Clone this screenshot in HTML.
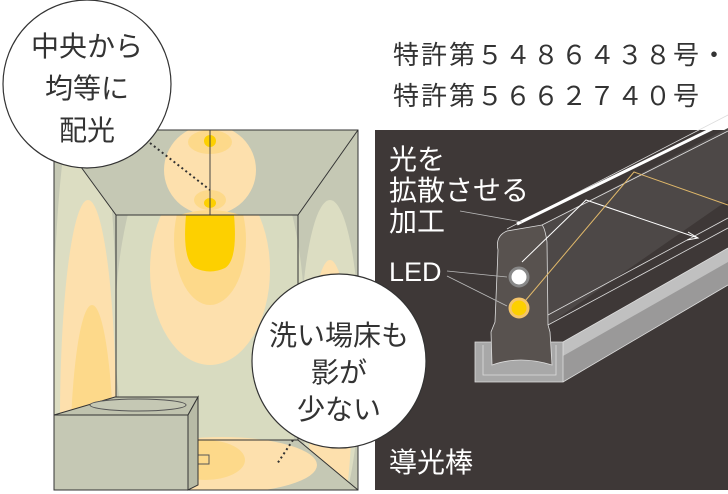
<!DOCTYPE html>
<html><head><meta charset="utf-8"><style>
html,body{margin:0;padding:0;background:#fff;width:728px;height:494px;overflow:hidden;}
svg{display:block}
text{font-family:"Liberation Sans","Noto Sans CJK JP",sans-serif;}
</style></head><body>
<svg width="728" height="494" viewBox="0 0 728 494" xmlns="http://www.w3.org/2000/svg">
<defs><clipPath id="room"><rect x="54" y="130" width="304" height="360"/></clipPath></defs>
<g clip-path="url(#room)">
<rect x="54" y="130" width="304" height="360" fill="#c5c8b4"/>
<ellipse cx="85" cy="360" rx="32" ry="280" fill="#dcddc2"/>
<ellipse cx="88" cy="420" rx="28" ry="220" fill="#fde0ad"/>
<ellipse cx="92" cy="470" rx="22" ry="165" fill="#fdd98a"/>
<ellipse cx="330" cy="360" rx="30" ry="160" fill="#dcddc2"/>
<ellipse cx="330" cy="400" rx="22" ry="140" fill="#fde0ad"/>
<polygon points="116,215 298,215 298,440 116,440" fill="#c5c8b4"/>
<ellipse cx="210" cy="330" rx="95" ry="230" fill="#d8dbc0"/>
<ellipse cx="210" cy="270" rx="60" ry="95" fill="#fde0ad"/>
<ellipse cx="210" cy="240" rx="36" ry="65" fill="#fdd98a"/>
<path d="M186,215 L234,215 Q238,260 225,268 Q210,275 195,268 Q182,260 186,215Z" fill="#fdd000"/>
<polygon points="54,130 358,130 298,215 116,215" fill="#c5c8b4"/>
<ellipse cx="210" cy="170" rx="46" ry="45" fill="#fde0ad"/>
<ellipse cx="210" cy="142" rx="22" ry="12" fill="#fdd98a"/>
<ellipse cx="210" cy="200" rx="16" ry="10" fill="#fdd98a"/>
<ellipse cx="210" cy="141" rx="6" ry="6" fill="#fdd000"/>
<ellipse cx="210" cy="203" rx="6" ry="5" fill="#fdd000"/>
<path d="M180,215 Q210,205 240,215Z" fill="#fdd98a"/>
<polygon points="116,440 298,440 358,490 54,490" fill="#c5c8b4"/>
<ellipse cx="222" cy="465" rx="95" ry="28" fill="#fde0ad"/>
<ellipse cx="205" cy="460" rx="40" ry="20" fill="#fdd98a"/>
<rect x="193" y="455" width="16" height="9" fill="none" stroke="#555" stroke-width="1"/>
</g>
<g fill="none" stroke="#333" stroke-width="1">
<rect x="54" y="130" width="304" height="360"/>
<rect x="116" y="215" width="182" height="225"/>
<line x1="54" y1="130" x2="116" y2="215"/>
<line x1="358" y1="130" x2="298" y2="215"/>
<line x1="298" y1="440" x2="358" y2="490"/>
<line x1="116" y1="440" x2="54" y2="490"/>
<line x1="210" y1="130" x2="210" y2="215" stroke="#444"/>
</g>
<!-- tub -->
<polygon points="54,415 115,397 198,397 188,415" fill="#c0c3ae" stroke="#333"/>
<polygon points="188,415 198,397 198,485 188,490" fill="#b8bba6" stroke="#333"/>
<rect x="54" y="415" width="134" height="75" fill="#c5c8b4" stroke="#333"/>
<ellipse cx="138" cy="405" rx="48" ry="6" fill="#c5c8b4" stroke="#555"/>
<line x1="150" y1="143" x2="210" y2="190" stroke="#333" stroke-width="2" stroke-dasharray="2,3"/>
<line x1="293" y1="440" x2="277" y2="464" stroke="#333" stroke-width="2" stroke-dasharray="2,3"/>
<circle cx="87" cy="84" r="84" fill="#fff" stroke="#333" stroke-width="1.2"/>
<g font-size="28" fill="#333" text-anchor="middle">
<text x="87" y="56">中央から</text>
<text x="87" y="98">均等に</text>
<text x="87" y="140">配光</text>
</g>
<g font-size="26" fill="#333">
<text x="393" y="64" letter-spacing="2">特許第５４８６４３８号・</text>
<text x="393" y="105" letter-spacing="2">特許第５６６２７４０号</text>
</g>
<rect x="375" y="130" width="353" height="360" fill="#3e3837"/>
<polygon points="507,231 542,225 728,128 728,200 548,325 547,242" fill="#4d4847"/>
<polygon points="475,342 563,342 728,248 728,285 563,382 475,382" fill="#9a9999"/>
<polygon points="563,342 728,248 728,262 563,356" fill="#c0c0c0"/>
<polygon points="475,342 563,342 563,382 475,382" fill="#a8a8a8" stroke="#ddd" stroke-width="0.8"/>
<path d="M507,231 Q495,236 498,250 L495,322 L491,332 L492,365 Q520,355 552,365 L550,332 L548,325 L547,242 Q545,228 542,225 Z" fill="#58524f" stroke="#ddd" stroke-width="0.8"/>
<g stroke="#ddd" stroke-width="0.8" fill="none">
<line x1="507" y1="229" x2="728" y2="115"/>
<line x1="542" y1="225" x2="728" y2="131"/>
<line x1="548" y1="325" x2="728" y2="228"/>
<line x1="548" y1="315" x2="728" y2="218"/>
<line x1="563" y1="342" x2="728" y2="248"/>
<line x1="563" y1="382" x2="728" y2="285"/>
<polyline points="483,345 483,375 556,375 556,345"/>
</g>
<line x1="517" y1="224" x2="728" y2="121" stroke="#fff" stroke-width="3"/>
<polyline points="522,262 586,200 698,238" fill="none" stroke="#fff" stroke-width="1"/>
<polyline points="688,232 698,238 687,240" fill="none" stroke="#fff" stroke-width="1"/>
<polyline points="520,307 634,172 728,205" fill="none" stroke="#e0b86a" stroke-width="1"/>
<circle cx="519" cy="277" r="9" fill="#fff" stroke="#888" stroke-width="3"/>
<circle cx="519" cy="308" r="9" fill="#fdd000" stroke="#f4c46a" stroke-width="3"/>
<g stroke="#bbb" stroke-width="0.8">
<line x1="460" y1="211" x2="522" y2="222"/>
<line x1="447" y1="271" x2="507" y2="277"/>
<line x1="447" y1="276" x2="507" y2="306"/>
</g>
<g font-size="28" fill="#fff">
<text x="389" y="169">光を</text>
<text x="389" y="200">拡散させる</text>
<text x="389" y="231">加工</text>
<text x="389" y="281" font-size="27">LED</text>
<text x="389" y="472">導光棒</text>
</g>
<circle cx="339" cy="361" r="87" fill="#fff" stroke="#333" stroke-width="1.2"/>
<g font-size="28" fill="#333" text-anchor="middle">
<text x="339" y="345">洗い場床も</text>
<text x="339" y="382">影が</text>
<text x="339" y="419">少ない</text>
</g>
</svg>
</body></html>
